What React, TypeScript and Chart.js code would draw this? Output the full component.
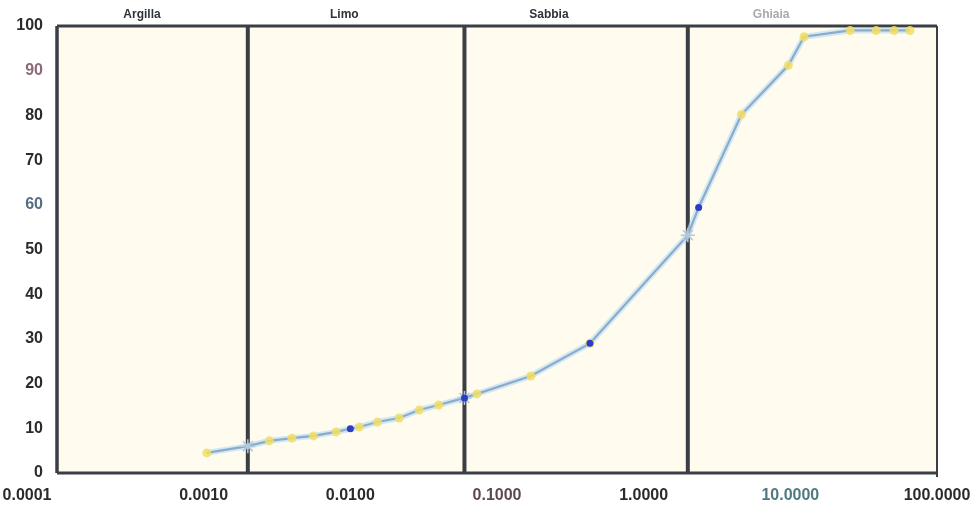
import { useEffect, useRef } from 'react';
import { Chart, registerables } from 'chart.js';

Chart.register(...registerables);

// Grain size (mm) and percent passing
const diameters = [0.00105, 0.002, 0.0028, 0.004, 0.0056, 0.008, 0.01, 0.0115, 0.0153, 0.0215, 0.0295, 0.04, 0.06, 0.073, 0.17, 0.43, 2.0, 2.37, 4.64, 9.7, 12.4, 25.6, 38.5, 51, 65.5];
const passing = [4.5, 6.0, 7.2, 7.8, 8.3, 9.2, 9.9, 10.3, 11.4, 12.3, 14.1, 15.2, 16.8, 17.7, 21.7, 29.0, 53.2, 59.4, 80.2, 91.2, 97.6, 99.0, 99.0, 99.0, 99.0];
// y = yellow marker, b = blue marker, x = boundary cross
const markerKinds = ['y', 'x', 'y', 'y', 'y', 'y', 'b', 'y', 'y', 'y', 'y', 'y', 'xb', 'y', 'y', 'yb', 'x', 'b', 'y', 'y', 'y', 'y', 'y', 'y', 'y'];

const zoneLimits = [0.002, 0.06, 2];
const zoneNames = ['Argilla', 'Limo', 'Sabbia', 'Ghiaia'];
const zoneLabelAt = [0.00038, 0.0091, 0.226, 7.4];
const zoneLabelColors = ['#2e3338', '#2e3338', '#2e3338', '#a9a9a9'];

const xTicks = [0.0001, 0.001, 0.01, 0.1, 1, 10, 100];
const xTickColors = ['#2b2b2b', '#2b2b2b', '#2b2b2b', '#5e4a4e', '#2b2b2b', '#4f7a80', '#2b2b2b'];
const yTickColors = ['#2b2b2b', '#2b2b2b', '#2b2b2b', '#2b2b2b', '#2b2b2b', '#2b2b2b', '#566b84', '#2b2b2b', '#2b2b2b', '#8a6a7a', '#2b2b2b'];

const pick = (kind: string) =>
  diameters
    .map((d, i) => ({ x: d, y: passing[i], k: markerKinds[i] }))
    .filter((p) => p.k.includes(kind))
    .map((p) => ({ x: p.x, y: p.y }));

const linePoints = diameters.map((d, i) => ({ x: d, y: passing[i] }));

const framePlugin = {
  id: 'frame',
  beforeDatasetsDraw(chart: any) {
    const { ctx, chartArea: a, scales } = chart;
    ctx.save();
    ctx.fillStyle = '#fffbee';
    ctx.fillRect(a.left, a.top, a.right - a.left, a.bottom - a.top);
    ctx.strokeStyle = '#3a3f46';
    // zone boundaries
    ctx.lineWidth = 4;
    zoneLimits.forEach((v) => {
      const x = scales.x.getPixelForValue(v);
      ctx.beginPath();
      ctx.moveTo(x, a.top);
      ctx.lineTo(x, a.bottom);
      ctx.stroke();
    });
    // frame
    ctx.lineWidth = 3.5;
    ctx.beginPath();
    ctx.moveTo(a.left, a.top);
    ctx.lineTo(a.left, a.bottom);
    ctx.stroke();
    ctx.lineWidth = 3;
    ctx.beginPath();
    ctx.moveTo(a.left, a.bottom);
    ctx.lineTo(a.right, a.bottom);
    ctx.stroke();
    ctx.beginPath();
    ctx.moveTo(a.left, a.top);
    ctx.lineTo(a.right, a.top);
    ctx.stroke();
    ctx.lineWidth = 2;
    ctx.beginPath();
    ctx.moveTo(a.right, a.top);
    ctx.lineTo(a.right, a.bottom + 4);
    ctx.stroke();
    ctx.restore();
  },
  afterDraw(chart: any) {
    const { ctx, scales } = chart;
    ctx.save();
    ctx.font = 'bold 12px "Liberation Sans", Arial, sans-serif';
    ctx.textAlign = 'center';
    ctx.textBaseline = 'middle';
    zoneNames.forEach((name, i) => {
      ctx.fillStyle = zoneLabelColors[i];
      ctx.fillText(name, scales.x.getPixelForValue(zoneLabelAt[i]), 15);
    });
    // first x tick label, drawn shifted left as in the reference
    ctx.font = 'bold 16px "Liberation Sans", Arial, sans-serif';
    ctx.fillStyle = xTickColors[0];
    const x0 = scales.x.getPixelForValue(xTicks[0]);
    ctx.fillText(xTicks[0].toFixed(4), x0 - 30, 496);
    ctx.restore();
  },
};

export default function App() {
  const ref = useRef<HTMLCanvasElement | null>(null);
  useEffect(() => {
    document.body.style.margin = '0';
    if (!ref.current) return;
    const font = { family: '"Liberation Sans", Arial, sans-serif', size: 16, weight: 'bold' as const };
    const chart = new Chart(ref.current, {
      type: 'scatter',
      data: {
        datasets: [
          {
            data: linePoints,
            showLine: true,
            borderColor: 'rgba(190,225,245,0.7)',
            borderWidth: 6,
            pointRadius: 0,
            order: 5,
          },
          {
            data: linePoints,
            showLine: true,
            borderColor: '#8eaacb',
            borderWidth: 2.2,
            pointRadius: 0,
            order: 4,
          },
          {
            data: pick('x'),
            showLine: false,
            pointStyle: 'star',
            pointRadius: 7,
            borderColor: '#b3c8da',
            borderWidth: 1.5,
            backgroundColor: 'transparent',
            order: 3,
          },
          {
            data: pick('y'),
            showLine: false,
            pointStyle: 'circle',
            pointRadius: 4.5,
            backgroundColor: 'rgba(242,222,100,0.85)',
            borderWidth: 0,
            order: 2,
          },
          {
            data: pick('b'),
            showLine: false,
            pointStyle: 'circle',
            pointRadius: 3.5,
            backgroundColor: '#2c3cc4',
            borderWidth: 0,
            order: 1,
          },
        ],
      },
      options: {
        responsive: false,
        animation: false,
        layout: { padding: { left: 16, right: 42, top: 26, bottom: 6 } },
        plugins: { legend: { display: false }, tooltip: { enabled: false } },
        scales: {
          x: {
            type: 'logarithmic',
            min: 0.0001,
            max: 100,
            grid: { display: false, drawTicks: false },
            border: { display: false },
            afterBuildTicks: (scale: any) => {
              scale.ticks = xTicks.map((v) => ({ value: v }));
            },
            afterFit: (scale: any) => {
              scale.height = 32;
              scale.paddingRight = 0;
              scale.paddingLeft = 0;
            },
            ticks: {
              autoSkip: false,
              maxRotation: 0,
              padding: 13,
              font,
              color: (c: any) => xTickColors[c.index] || '#2b2b2b',
              callback: (v: any, i: number) => (i === 0 ? '' : Number(v).toFixed(4)),
            },
          },
          y: {
            min: 0,
            max: 100,
            grid: { display: false, drawTicks: false },
            border: { display: false },
            afterFit: (scale: any) => {
              scale.width = 41;
            },
            ticks: {
              stepSize: 10,
              padding: 14,
              font,
              color: (c: any) => yTickColors[c.index] || '#2b2b2b',
            },
          },
        },
      },
      plugins: [framePlugin],
    });
    return () => chart.destroy();
  }, []);
  return (
    <div style={{ width: 979, height: 511, background: '#ffffff' }}>
      <canvas ref={ref} width={979} height={511} />
    </div>
  );
}
